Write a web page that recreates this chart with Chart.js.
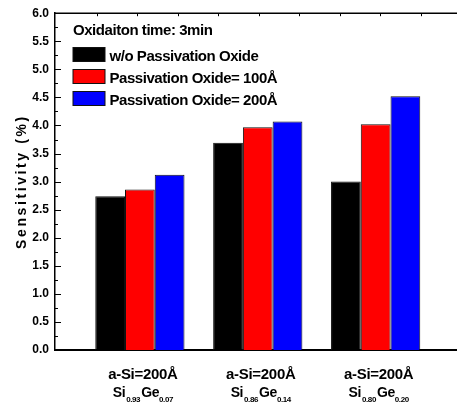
<!DOCTYPE html>
<html>
<head>
<meta charset="utf-8">
<script src="https://cdn.jsdelivr.net/npm/chart.js@4/dist/chart.umd.min.js"></script>
<style>
  html, body { margin: 0; padding: 0; background: #fff; overflow: hidden; }
  #wrap { width: 457px; height: 409px; }
</style>
</head>
<body>
<div id="wrap"><canvas id="sensChart" width="457" height="409"></canvas></div>
<script>
// datos
const groupPos = [1, 2, 3];
const labelTop = ['a-Si=200Å', 'a-Si=200Å', 'a-Si=200Å'];
const siFrac = ['0.93', '0.86', '0.80'];
const geFrac = ['0.07', '0.14', '0.20'];

const seriesNames = ['w/o Passivation Oxide', 'Passivation Oxide= 100Å', 'Passivation Oxide= 200Å'];
const noOxide = [2.74, 3.69, 3.00];
const oxide100 = [2.86, 3.97, 4.02];
const oxide200 = [3.12, 4.07, 4.52];

const legendTitle = 'Oxidaiton time: 3min';
const yTitle = 'Sensitivity (%)';

const FONT = "'Liberation Sans', Arial, sans-serif";

function pts(vals) {
    return vals.map((v, i) => ({ x: groupPos[i], y: v }));
}

// ticks, marco superior, leyenda y etiquetas del eje x
const decoPlugin = {
    id: 'deco',
    afterDraw(chart) {
        const ctx = chart.ctx;
        const area = chart.chartArea;
        const xs = chart.scales.x;
        const ys = chart.scales.y;
        ctx.save();
        ctx.strokeStyle = '#000';
        ctx.fillStyle = '#000';

        // ticks del eje y hacia dentro
        ctx.lineWidth = 1;
        for (let v = 0.25; v < 6; v += 0.25) {
            const py = Math.round(ys.getPixelForValue(v)) + 0.5;
            const major = Math.abs(v * 2 - Math.round(v * 2)) < 1e-6;
            ctx.beginPath();
            ctx.moveTo(area.left, py);
            ctx.lineTo(area.left + (major ? 6 : 3), py);
            ctx.stroke();
        }

        // linea superior con ticks
        ctx.lineWidth = 1.5;
        ctx.beginPath();
        ctx.moveTo(area.left, area.top);
        ctx.lineTo(area.right, area.top);
        ctx.stroke();
        ctx.lineWidth = 1;
        for (let px = area.left + 41.5; px < area.right; px += 40.5) {
            ctx.beginPath();
            ctx.moveTo(Math.round(px) + 0.5, area.top);
            ctx.lineTo(Math.round(px) + 0.5, area.top + 3);
            ctx.stroke();
        }

        // leyenda
        ctx.letterSpacing = '-0.45px';
        ctx.font = 'bold 15px ' + FONT;
        ctx.textAlign = 'left';
        ctx.textBaseline = 'alphabetic';
        ctx.fillText(legendTitle, area.left + 18, 35);
        chart.data.datasets.forEach((ds, i) => {
            const by = 47.5 + i * 22;
            ctx.fillStyle = ds.backgroundColor;
            ctx.fillRect(area.left + 18, by, 32, 14);
            ctx.strokeStyle = '#111';
            ctx.lineWidth = 1;
            ctx.strokeRect(area.left + 18, by, 32, 14);
            ctx.fillStyle = '#000';
            ctx.fillText(ds.label, area.left + 54.5, by + 13.5);
        });

        // etiquetas del eje x
        groupPos.forEach((g, i) => {
            const cx = xs.getPixelForValue(g) + 3;
            ctx.letterSpacing = '-0.3px';
            ctx.font = 'bold 15px ' + FONT;
            ctx.textAlign = 'center';
            ctx.fillText(labelTop[i], cx, 379);

            const big = 'bold 14px ' + FONT;
            const small = 'bold 8px ' + FONT;
            ctx.letterSpacing = '-0.4px';
            ctx.font = big;
            const wSi = ctx.measureText('Si').width;
            const wGe = ctx.measureText('Ge').width;
            ctx.font = small;
            const wA = ctx.measureText(siFrac[i]).width;
            const wB = ctx.measureText(geFrac[i]).width;
            let x0 = cx - (wSi + wA + wGe + wB + 2) / 2;
            ctx.textAlign = 'left';
            ctx.font = big;
            ctx.fillText('Si', x0, 397);
            x0 += wSi + 1;
            ctx.font = small;
            ctx.fillText(siFrac[i], x0, 402);
            x0 += wA + 1;
            ctx.font = big;
            ctx.fillText('Ge', x0, 397);
            x0 += wGe;
            ctx.font = small;
            ctx.fillText(geFrac[i], x0, 402);
        });

        // titulo del eje y
        ctx.translate(22, (area.top + area.bottom) / 2);
        ctx.rotate(-Math.PI / 2);
        ctx.letterSpacing = '2.6px';
        ctx.font = 'bold 14px ' + FONT;
        ctx.textAlign = 'center';
        ctx.textBaseline = 'middle';
        ctx.fillText(yTitle, 0, 0);
        ctx.restore();
    }
};

const ctx = document.getElementById('sensChart').getContext('2d');
new Chart(ctx, {
    type: 'bar',
    data: {
        datasets: [{
            label: seriesNames[0],
            data: pts(noOxide),
            backgroundColor: '#000000',
            borderColor: '#111',
            borderWidth: 1,
        }, {
            label: seriesNames[1],
            data: pts(oxide100),
            backgroundColor: '#ff0000',
            borderColor: '#111',
            borderWidth: 1,
        }, {
            label: seriesNames[2],
            data: pts(oxide200),
            backgroundColor: '#0000ff',
            borderColor: '#111',
            borderWidth: 1,
        }]
    },
    options: {
        responsive: false,
        animation: false,
        layout: { padding: { top: 13, left: 0, right: 0, bottom: 0 } },
        datasets: {
            bar: { categoryPercentage: 0.757, barPercentage: 1.0 }
        },
        plugins: {
            legend: { display: false },
            tooltip: { enabled: false }
        },
        scales: {
            x: {
                type: 'linear',
                min: 0.28,
                max: 3.69,
                offset: false,
                grid: { display: false, drawTicks: false },
                border: { display: true, color: '#000', width: 2 },
                ticks: { display: false },
                afterBuildTicks: (scale) => {
                    scale.ticks = groupPos.map(v => ({ value: v }));
                },
                afterFit: (scale) => { scale.height = 59; }
            },
            y: {
                min: 0,
                max: 6,
                grid: { display: false, drawTicks: false },
                border: { display: true, color: '#000', width: 1.5 },
                ticks: {
                    stepSize: 0.5,
                    padding: 6,
                    color: '#000',
                    font: { family: FONT, size: 12, weight: 'bold' },
                    callback: (v) => Number(v).toFixed(1)
                },
                afterFit: (scale) => { scale.width = 55; }
            }
        }
    },
    plugins: [decoPlugin]
});
</script>
</body>
</html>
